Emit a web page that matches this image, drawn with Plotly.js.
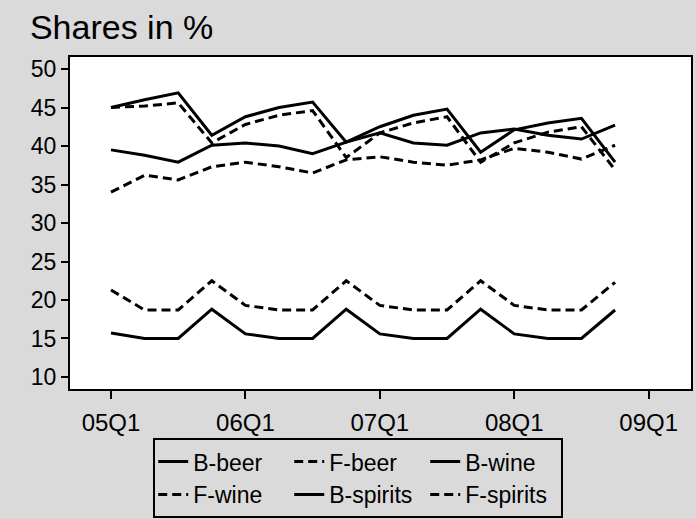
<!DOCTYPE html>
<html>
<head>
<meta charset="utf-8">
<script src="https://cdn.plot.ly/plotly-3.0.1.min.js"></script>
<style>
html,body{margin:0;padding:0;background:#dadada;}
#chart{width:696px;height:519px;}
</style>
</head>
<body>
<div id="chart"></div>
<script>
// Quarters 05Q1 .. 08Q4 (index 0..15)
const quarters = ["05Q1","05Q2","05Q3","05Q4","06Q1","06Q2","06Q3","06Q4","07Q1","07Q2","07Q3","07Q4","08Q1","08Q2","08Q3","08Q4"];
const tickLabels = ["05Q1","06Q1","07Q1","08Q1","09Q1"];
const tickIndex = [0,4,8,12,16];

const bBeer    = [45.0,46.0,46.9,41.4,43.8,45.0,45.7,40.5,42.5,44.0,44.8,39.2,42.1,43.0,43.6,37.9];
const fBeer    = [45.0,45.2,45.6,40.4,42.8,44.0,44.6,38.5,41.7,43.0,43.8,37.9,40.4,41.8,42.5,36.9];
const bWine    = [39.5,38.8,37.9,40.1,40.4,40.0,39.0,40.5,41.7,40.4,40.1,41.7,42.2,41.4,40.9,42.7];
const fWine    = [34.0,36.2,35.6,37.3,37.9,37.3,36.5,38.2,38.6,37.9,37.5,38.2,39.7,39.2,38.3,40.1];
const bSpirits = [15.7,15.0,15.0,18.8,15.6,15.0,15.0,18.8,15.6,15.0,15.0,18.8,15.6,15.0,15.0,18.7];
const fSpirits = [21.3,18.7,18.7,22.5,19.3,18.7,18.7,22.5,19.3,18.7,18.7,22.5,19.3,18.7,18.7,22.3];

const names = ["B-beer","F-beer","B-wine","F-wine","B-spirits","F-spirits"];
const series = [bBeer,fBeer,bWine,fWine,bSpirits,fSpirits];
const dashes = ["solid","dash","solid","dash","solid","dash"];
// legend columns (3 per row, as in the reference)
const legendCols = ["c1","c2","c3","c1","c2","c3"];

const xIdx = quarters.map((q,i)=>i);
const traces = series.map((s,k)=>({
  x: xIdx, y: s, type:"scatter", mode:"lines", name: names[k], legendgroup: legendCols[k],
  text: quarters, line:{color:"#000", width:3, dash: dashes[k]==="dash" ? "9px,5px" : "solid"}
}));

const layout = {
  width:696, height:519,
  paper_bgcolor:"#dadada", plot_bgcolor:"#ffffff",
  font:{family:"Liberation Sans, Arial, sans-serif", color:"#000", size:23},
  margin:{l:70, r:5, t:57, b:130, autoexpand:false},
  title:{text:"Shares in %", font:{size:34, color:"#000"}, x:0.043, xanchor:"left", xref:"container", y:0.948, yanchor:"middle", yref:"container"},
  xaxis:{range:[-1.22,17.26], tickmode:"array", tickvals:tickIndex, ticktext:tickLabels,
    showgrid:false, zeroline:false, showline:true, linecolor:"#000", linewidth:2, mirror:true,
    ticks:"outside", ticklen:8, tickwidth:2, tickcolor:"#000", tickfont:{size:24}, ticklabelstandoff:3},
  yaxis:{range:[8.44,51.56], tickmode:"linear", tick0:10, dtick:5,
    showgrid:false, zeroline:false, showline:true, linecolor:"#000", linewidth:2, mirror:true,
    ticks:"outside", ticklen:7, tickwidth:2, tickcolor:"#000", tickfont:{size:23}},
  showlegend:true,
  legend:{orientation:"h", x:0.134, xanchor:"left", y:-0.148, yanchor:"top",
    bgcolor:"rgba(0,0,0,0)", bordercolor:"#000", borderwidth:2, tracegroupgap:0,
    font:{size:23}, itemwidth:30, entrywidth:91, entrywidthmode:"pixels", traceorder:"grouped"}
};

Plotly.newPlot("chart", traces, layout, {displayModeBar:false, staticPlot:true});
</script>
</body>
</html>
